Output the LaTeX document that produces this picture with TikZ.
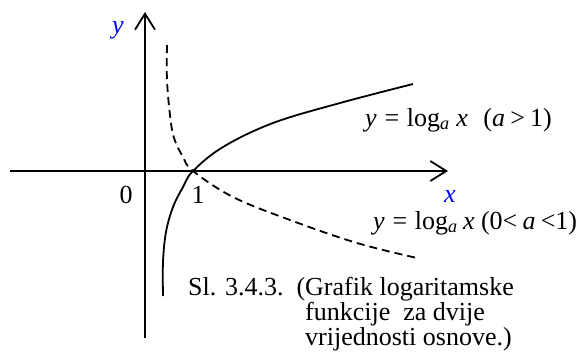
\documentclass[tikz,border=0pt]{standalone}
\usepackage{fontspec}
\setmainfont{Liberation Serif}
\usetikzlibrary{arrows.meta}
\begin{document}
\begin{tikzpicture}[
        x=1pt, y=-1pt,
        font=\fontsize{26}{25}\selectfont,
        axis/.style={
          line width=1.8pt,
          -{Straight Barb[length=16pt,width=20pt,line width=1.8pt]}
        },
        graph/.style={line width=1.8pt},
        lbl/.style={inner sep=0pt, anchor=base},
        var/.style={lbl, text=blue, font=\fontsize{26}{25}\selectfont\itshape}
      ]
      \useasboundingbox (0,0) rectangle (584,360);

      \coordinate (xl) at (10,171);
      \coordinate (xr) at (448,171);
      \coordinate (yb) at (145,338);
      \coordinate (yt) at (145,12);
      \draw[axis] (xl) -- (xr);
      \draw[axis] (yb) -- (yt);

      \draw[graph] plot[smooth, tension=0.6] coordinates
        {(163,296) (163,262) (166,232) (173,207) (183,187) (193,171)
         (223,147) (273,123) (340,103) (413,84)};
      \draw[graph, dash pattern=on 8pt off 5pt] plot[smooth, tension=0.6] coordinates
        {(167,45) (167,80) (170,115) (174,138) (183,157) (193,171)
         (233,197) (290,220) (357,243) (417,258)};

      \node[var] (ylab) at (118,33) {y};
      \node[var] (xlab) at (450,202) {x};
      \node[lbl] (zero) at (126,203) {0};
      \node[lbl] (one) at (198,203) {1};

      \node[lbl, anchor=base west] (grow) at (365,126)
        {\textit{y}\hspace{0.3em}=\hspace{0.3em}log\textsubscript{\textit{a}}\hspace{0.25em}\textit{x}\hspace{0.6em}(\textit{a}\hspace{0.2em}>\hspace{0.2em}1)};
      \node[lbl, anchor=base west] (fall) at (373,229)
        {\textit{y}\hspace{0.3em}=\hspace{0.3em}log\textsubscript{\textit{a}}\hspace{0.2em}\textit{x} (0<\hspace{0.2em}\textit{a}\hspace{0.2em}<1)};

      \node[lbl, anchor=base west, align=left] (cap) at (188,345)
        {Sl. 3.4.3.\ \ (Grafik logaritamske\\
         \hspace*{4.5em}funkcije\ \ za dvije\\
         \hspace*{4.5em}vrijednosti osnove.)};
    \end{tikzpicture}
\end{document}
